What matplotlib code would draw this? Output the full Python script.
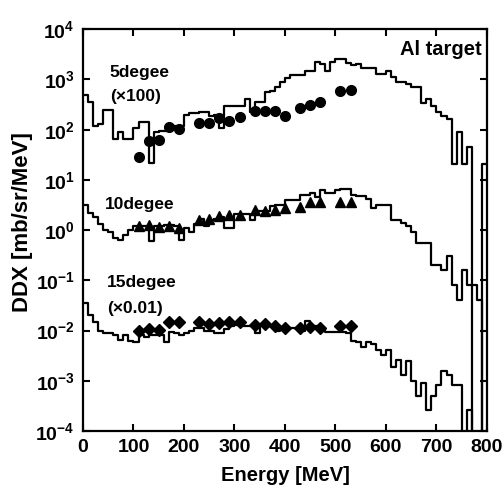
import numpy as np
import matplotlib
matplotlib.use("Agg")
from matplotlib import pyplot as plt

plt.rcParams["font.family"] = ["Liberation Sans", "DejaVu Sans"]
plt.rcParams["font.weight"] = "bold"
plt.rcParams["mathtext.fontset"] = "custom"
plt.rcParams["mathtext.rm"] = "Liberation Sans:bold"
plt.rcParams["mathtext.bf"] = "Liberation Sans:bold"
plt.rcParams["mathtext.it"] = "Liberation Sans:bold"

# histogram bin edges [MeV], 10 MeV bins
edges = np.arange(0, 810, 10)

# calculated DDX, 5 deg (x100)
calc_5deg = [
    500, 350, 120, 130, 250, 250, 66, 90, 66, 66,
    110, 140, 140, 22, 90, 95, 95, 120, 120, 120,
    200, 210, 210, 220, 220, 190, 200, 110, 290, 290,
    290, 290, 410, 220, 350, 350, 560, 600, 700, 890,
    1080, 1200, 1200, 1200, 1500, 1500, 2200, 2000, 1500, 2200,
    2500, 2500, 2100, 1950, 2000, 1700, 1700, 1700, 1300, 1300,
    1500, 1120, 890, 890, 820, 720, 720, 340, 400, 300,
    220, 190, 160, 21, 89, 21, 45, 0, 0, 21,
]

# calculated DDX, 10 deg
calc_10deg = [
    3.2, 2.2, 1.8, 1.3, 1.0, 0.9, 0.7, 0.65, 0.8, 1.0,
    1.2, 1.2, 1.2, 0.6, 1.2, 1.2, 1.25, 1.25, 1.2, 0.65,
    1.1, 0.93, 1.3, 1.65, 1.2, 1.6, 1.7, 1.8, 1.1, 1.1,
    2.05, 2.05, 2.05, 1.6, 2.45, 2.35, 2.35, 3.0, 3.2, 3.2,
    3.9, 3.9, 3.9, 5.1, 4.9, 5.6, 4.6, 6.2, 5.6, 5.6,
    6.2, 6.5, 6.5, 5.1, 4.8, 4.7, 4.1, 2.8, 3.2, 3.2,
    3.2, 1.6, 1.6, 1.4, 1.2, 0.9, 0.56, 0.56, 0.56, 0.2,
    0.2, 0.16, 0.3, 0.08, 0.04, 0.16, 0.08, 0.08, 0.04, 0,
]

# calculated DDX, 15 deg (x0.01)
calc_15deg = [
    0.035, 0.02, 0.015, 0.010, 0.009, 0.009, 0.008, 0.0065, 0.008, 0.0063,
    0.006, 0.008, 0.0076, 0.008, 0.008, 0.008, 0.006, 0.0095, 0.009, 0.008,
    0.009, 0.010, 0.0115, 0.0115, 0.010, 0.010, 0.009, 0.009, 0.0107, 0.0125,
    0.0129, 0.0126, 0.0126, 0.0123, 0.009, 0.0123, 0.0123, 0.0123, 0.010, 0.0112,
    0.0115, 0.0115, 0.0115, 0.010, 0.0155, 0.0123, 0.0123, 0.0107, 0.0095, 0.0095,
    0.0095, 0.0095, 0.0089, 0.0062, 0.006, 0.0048, 0.006, 0.0055, 0.0041, 0.0032,
    0.0041, 0.0019, 0.0026, 0.0013, 0.0025, 0.001, 0.0005, 0.0009, 0.00026, 0.0005,
    0.00083, 0.0016, 0.0013, 0.00083, 0.00083, 0, 0.00026, 0, 0, 0,
]

# measured points
exp_energy = [110, 130, 150, 170, 190, 230, 250, 270, 290, 310,
              340, 360, 380, 400, 430, 450, 470, 510, 530]
exp_5deg = [29, 60, 63, 112, 102, 135, 135, 170, 148, 178,
            234, 234, 234, 186, 269, 309, 355, 589, 617]
exp_10deg = [1.2, 1.26, 1.17, 1.2, 1.12, 1.62, 1.7, 1.9, 2.04, 2.04,
             2.5, 2.45, 2.57, 2.7, 2.95, 3.55, 3.55, 3.55, 3.55]
exp_15deg = [0.0098, 0.0107, 0.0102, 0.0148, 0.0151, 0.0148, 0.0135, 0.0141, 0.0148, 0.0148,
             0.0129, 0.0135, 0.0126, 0.0115, 0.0115, 0.012, 0.0115, 0.0126, 0.0126]

x_ticks = [0, 100, 200, 300, 400, 500, 600, 700, 800]
y_ticks = [1e-4, 1e-3, 1e-2, 1e-1, 1e0, 1e1, 1e2, 1e3, 1e4]
y_labels = [r"$10^{-4}$", r"$10^{-3}$", r"$10^{-2}$", r"$10^{-1}$", r"$10^{0}$",
            r"$10^{1}$", r"$10^{2}$", r"$10^{3}$", r"$10^{4}$"]

fig = plt.figure(figsize=(5.03, 4.87), dpi=100)
ax = fig.add_axes([0.165, 0.115, 0.803, 0.825])

for calc in (calc_5deg, calc_10deg, calc_15deg):
    ax.step(edges, list(calc) + [calc[-1]], where="post", color="black", lw=1.6)

ax.plot(exp_energy, exp_5deg, "o", color="black", ms=7, ls="none")
ax.plot(exp_energy, exp_10deg, "^", color="black", ms=7, ls="none")
ax.plot(exp_energy, exp_15deg, "D", color="black", ms=6, ls="none")

ax.set_yscale("log")
ax.set_xlim(0, 800)
ax.set_ylim(1e-4, 1e4)
ax.set_xticks(x_ticks)
ax.set_yticks(y_ticks)
ax.set_yticklabels(y_labels)
ax.minorticks_off()
ax.tick_params(direction="in", length=5, width=1.5, top=True, right=True,
               labelsize=14, pad=6)
for s in ax.spines.values():
    s.set_linewidth(1.6)

ax.set_xlabel("Energy [MeV]", fontsize=14.5, fontweight="bold", labelpad=7)
ax.set_ylabel("DDX [mb/sr/MeV]", fontsize=16, fontweight="bold")
ax.yaxis.set_label_coords(-0.125, 0.52)

ax.text(53, 1100, "5degee", fontsize=12.5, fontweight="bold")
ax.text(53, 380, "(×100)", fontsize=12.5, fontweight="bold")
ax.text(44, 2.6, "10degee", fontsize=12.5, fontweight="bold")
ax.text(48, 0.075, "15degee", fontsize=12.5, fontweight="bold")
ax.text(48, 0.022, "(×0.01)", fontsize=12.5, fontweight="bold")
ax.text(790, 3000, "Al target", fontsize=14.5, fontweight="bold", ha="right")

fig.savefig("out.png", dpi=100)
